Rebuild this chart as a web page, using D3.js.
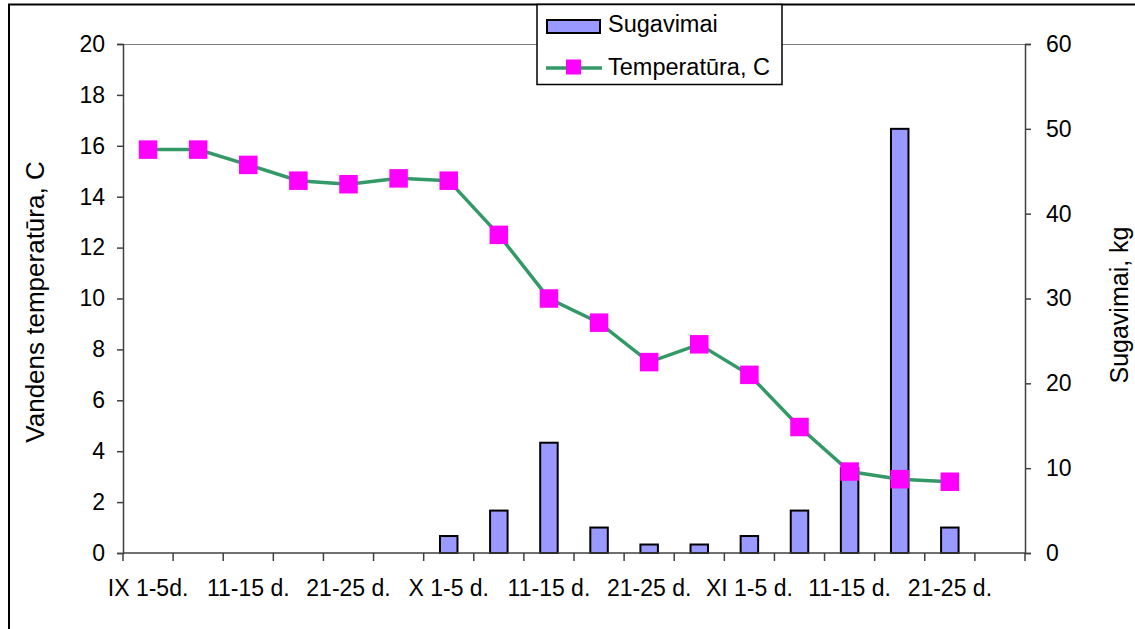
<!DOCTYPE html>
<html><head><meta charset="utf-8">
<script src="https://cdn.jsdelivr.net/npm/d3@7"></script>
<style>body{margin:0;background:#fff}svg{display:block;font-family:Arial,"Liberation Sans",sans-serif}</style>
</head><body>
<svg id="c" width="1135" height="629"></svg>
<script>
const categories = ["IX 1-5d.","IX 6-10 d.","IX 11-15 d.","IX 16-20 d.","IX 21-25 d.","IX 26-30 d.","X 1-5 d.","X 6-10 d.","X 11-15 d.","X 16-20 d.","X 21-25 d.","X 26-31 d.","XI 1-5 d.","XI 6-10 d.","XI 11-15 d.","XI 16-20 d.","XI 21-25 d.","XI 26-30 d."];
const tickLabels = ["IX 1-5d.","","11-15 d.","","21-25 d.","","X 1-5 d.","","11-15 d.","","21-25 d.","","XI 1-5 d.","","11-15 d.","","21-25 d.",""];
const temperature = [15.85,15.85,15.25,14.63,14.49,14.72,14.63,12.5,10.0,9.05,7.5,8.2,7.0,4.95,3.2,2.9,2.8,null];
const catch_kg = [0,0,0,0,0,0,2,5,13,3,1,1,2,5,10,50,3,0];
const leftTicks = [0,2,4,6,8,10,12,14,16,18,20];
const rightTicks = [0,10,20,30,40,50,60];

const FS = 23;
const svg = d3.select("#c");
const L=123, R=1025, T=44, B=553;
const x = d3.scaleBand().domain(categories).range([L,R]).padding(0);
const yL = d3.scaleLinear().domain([0,20]).range([B,T]);
const yR = d3.scaleLinear().domain([0,60]).range([B,T]);
const cx = c => x(c)+x.bandwidth()/2;

// outer border
svg.append("path").attr("d","M9,640 L9,4.5 L1140,4.5").attr("fill","none").attr("stroke","#000").attr("stroke-width",2);

// top plot border
svg.append("line").attr("x1",L).attr("x2",R).attr("y1",T+0.5).attr("y2",T+0.5).attr("stroke","#808080").attr("stroke-width",1.2);

// bars
const bw = 17.5;
svg.append("g").selectAll("rect").data(categories.map((c,i)=>({c,v:catch_kg[i]})).filter(d=>d.v>0))
 .join("rect")
 .attr("x",d=>cx(d.c)-bw/2)
 .attr("y",d=>yR(d.v))
 .attr("width",bw)
 .attr("height",d=>B-yR(d.v))
 .attr("fill","#9999ff").attr("stroke","#000").attr("stroke-width",2);

// axes
const axL = svg.append("g").attr("transform",`translate(${L},0)`)
 .call(d3.axisLeft(yL).tickValues(leftTicks).tickSize(6).tickPadding(12));
const axR = svg.append("g").attr("transform",`translate(${R},0)`)
 .call(d3.axisRight(yR).tickValues(rightTicks).tickSize(6).tickPadding(15));
const axX = svg.append("g").attr("transform",`translate(0,${B})`)
 .call(d3.axisBottom(x).tickSize(0).tickPadding(27).tickFormat((d,i)=>tickLabels[i]));
[axL,axR,axX].forEach(a=>{
  a.select(".domain").attr("stroke","#404040").attr("stroke-width",1.5);
  a.selectAll(".tick line").attr("stroke","#404040").attr("stroke-width",1.5);
  a.selectAll("text").attr("font-size",FS).attr("fill","#000").attr("font-family","Arial, 'Liberation Sans', sans-serif");
});
// category boundary ticks
svg.append("g").selectAll("line").data(d3.range(categories.length+1))
 .join("line")
 .attr("x1",i=>L+i*x.bandwidth()).attr("x2",i=>L+i*x.bandwidth())
 .attr("y1",B).attr("y2",B+8).attr("stroke","#404040").attr("stroke-width",1.5);
axX.select(".domain").attr("d",`M${L},0H${R}`);

// line
const pts = categories.map((c,i)=>({c,v:temperature[i]})).filter(d=>d.v!=null);
svg.append("path").datum(pts)
 .attr("d",d3.line().x(d=>cx(d.c)).y(d=>yL(d.v)))
 .attr("fill","none").attr("stroke","#339966").attr("stroke-width",3.5);
const ms=18.5;
svg.append("g").selectAll("rect").data(pts).join("rect")
 .attr("x",d=>cx(d.c)-ms/2)
 .attr("y",d=>yL(d.v)-ms/2)
 .attr("width",ms).attr("height",ms).attr("fill","#ff00ff");

// axis titles
svg.append("text").attr("transform","translate(44,302) rotate(-90)").attr("text-anchor","middle")
 .attr("font-size",26).text("Vandens temperatūra, C");
svg.append("text").attr("transform","translate(1128,305) rotate(-90)").attr("text-anchor","middle")
 .attr("font-size",25).text("Sugavimai, kg");

// legend
const lg = svg.append("g");
lg.append("rect").attr("x",537).attr("y",4.5).attr("width",245).attr("height",80).attr("fill","#fff").attr("stroke","#000").attr("stroke-width",1.5);
lg.append("rect").attr("x",547).attr("y",20).attr("width",53).attr("height",13).attr("fill","#9999ff").attr("stroke","#000").attr("stroke-width",2);
lg.append("text").attr("x",608).attr("y",32).attr("font-size",FS+0.5).text("Sugavimai");
lg.append("line").attr("x1",546).attr("x2",602).attr("y1",68).attr("y2",68).attr("stroke","#339966").attr("stroke-width",3.5);
lg.append("rect").attr("x",566).attr("y",59.5).attr("width",15).attr("height",15).attr("fill","#ff00ff");
lg.append("text").attr("x",608).attr("y",75).attr("font-size",FS+0.5).text("Temperatūra, C");
</script>
</body></html>
